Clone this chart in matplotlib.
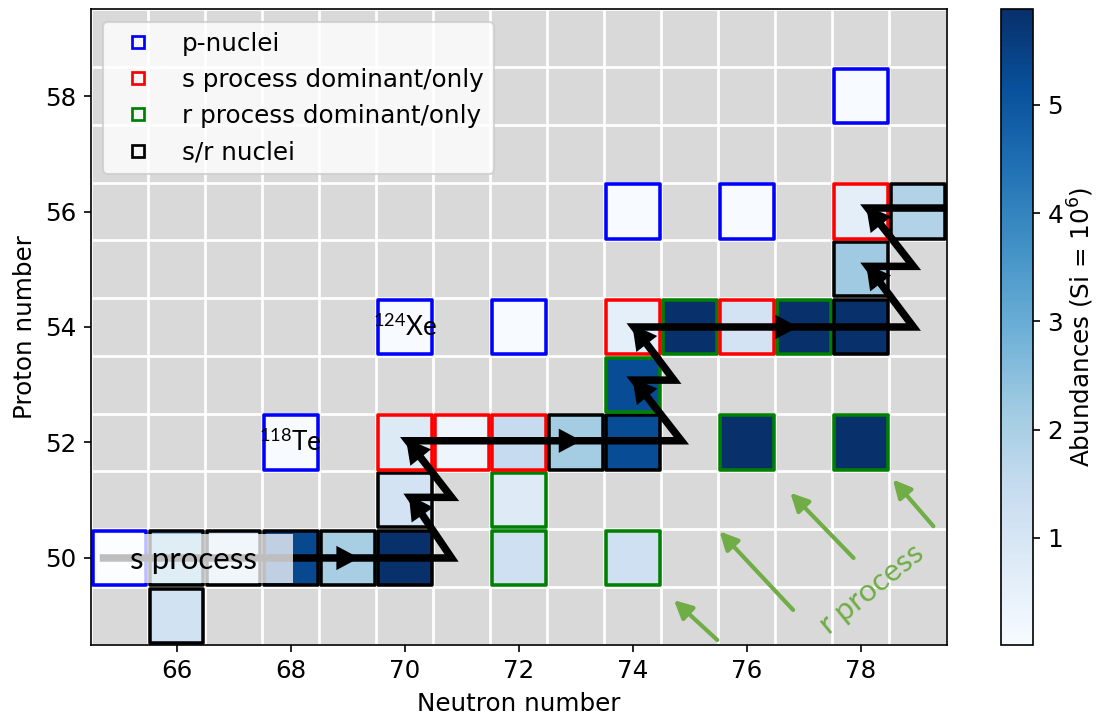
import numpy as np
import matplotlib
matplotlib.use("Agg")
import matplotlib.pyplot as plt
from matplotlib.collections import PatchCollection
from matplotlib.patches import Rectangle
from matplotlib.lines import Line2D
from matplotlib.colors import Normalize

plt.rcParams["font.size"] = 11.8
plt.rcParams["mathtext.fontset"] = "custom"
plt.rcParams["mathtext.rm"] = "Lato"
plt.rcParams["mathtext.it"] = "Lato:italic"
plt.rcParams["mathtext.bf"] = "Lato:bold"

# nuclides in the Sn-Ba region: neutron number, proton number, abundance, origin
neutron_number = [66, 65, 66, 67, 68, 69, 70, 72, 74, 70, 72,
                  68, 70, 71, 72, 73, 74, 76, 78, 74,
                  70, 72, 74, 75, 76, 77, 78, 78, 74, 76, 78, 79, 78]
proton_number = [49, 50, 50, 50, 50, 50, 50, 50, 50, 51, 51,
                 52, 52, 52, 52, 52, 52, 52, 52, 53,
                 54, 54, 54, 54, 54, 54, 54, 55, 56, 56, 56, 56, 58]
abundance = [1.15, 0.07, 2.6, 1.4, 5.35, 2.05, 5.88, 1.25, 1.25, 1.1, 0.75,
             0.03, 0.8, 0.3, 1.5, 2.1, 5.25, 5.88, 5.88, 5.25,
             0.03, 0.03, 0.55, 5.88, 1.1, 5.88, 5.88, 2.2, 0.03, 0.03, 0.6, 1.85, 0.02]
origin = ["sr", "p", "sr", "sr", "sr", "sr", "sr", "r", "r", "sr", "r",
          "p", "s", "s", "s", "sr", "sr", "r", "r", "r",
          "p", "p", "s", "r", "s", "r", "sr", "sr", "p", "p", "s", "sr", "p"]

origin_colors = {"p": "b", "s": "r", "r": "g", "sr": "k"}
origin_labels = {"p": "p-nuclei", "s": "s process dominant/only",
                 "r": "r process dominant/only", "sr": "s/r nuclei"}

# s-process path (neutron captures along a row, beta decays up-left)
s_path_n = [64.65, 70.82, 70.1, 70.82, 70.05, 74.85, 74.02, 74.72, 74.02,
            78.92, 78.12, 78.92, 78.12, 79.9]
s_path_z = [50.0, 50.0, 51.05, 51.05, 52.03, 52.03, 53.08, 53.08, 54.0,
            54.0, 55.05, 55.05, 56.06, 56.06]
s_capture_heads_n = [69.2, 73.1, 76.9]
s_capture_heads_z = [50.0, 52.03, 54.0]

# r-process feeding arrows (tail -> tip)
r_tail_n = [75.48, 76.81, 77.87, 79.27]
r_tail_z = [48.58, 49.10, 50.0, 50.55]
r_tip_n = [74.72, 75.52, 76.76, 78.56]
r_tip_z = [49.27, 50.46, 51.13, 51.36]

office_green = "#70ad47"
note_font = "Lato"

fig = plt.figure(figsize=(1096 / 150, 722 / 150), dpi=150)
ax = fig.add_axes([0.0832, 0.1072, 0.7804, 0.8798])
cax = fig.add_axes([0.9133, 0.1072, 0.0292, 0.8798])

ax.set_facecolor("#d9d9d9")
ax.set_xlim(64.5, 79.5)
ax.set_ylim(48.5, 59.5)
ax.set_xticks(np.arange(66, 79, 2))
ax.set_yticks(np.arange(50, 59, 2))
ax.set_xticks(np.arange(64.5, 80, 1), minor=True)
ax.set_yticks(np.arange(48.5, 60, 1), minor=True)
ax.tick_params(which="minor", length=0)
ax.grid(which="minor", color="white", lw=1.3)
ax.set_axisbelow(True)

# cells, edge drawn inside each unit square
lw_cell = 1.7
inset = (lw_cell * 150 / 72 / 2) / 57.0
cells = [Rectangle((n - 0.5 + inset, z - 0.5 + inset), 1 - 2 * inset, 1 - 2 * inset)
         for n, z in zip(neutron_number, proton_number)]
norm = Normalize(vmin=0.015, vmax=5.88)
coll = PatchCollection(cells, cmap="Blues", norm=norm, zorder=2,
                       edgecolors=[origin_colors[o] for o in origin], linewidths=lw_cell)
coll.set_array(np.array(abundance))
ax.add_collection(coll)

# s-process zigzag
ax.plot(s_path_n, s_path_z, color="k", lw=3.6, solid_joinstyle="miter",
        solid_capstyle="butt", zorder=3)


def arrow_head(tip, direction, color="k", length=0.42, width=0.46):
    d = np.asarray(direction, float)
    d /= np.hypot(*d)
    base = np.asarray(tip, float) - d * length
    ax.arrow(base[0], base[1], d[0] * length, d[1] * length, width=0,
             head_width=width, head_length=length, length_includes_head=True,
             fc=color, ec="none", zorder=3)


for i in range(2, len(s_path_n) - 1, 2):
    d = (s_path_n[i] - s_path_n[i - 1], s_path_z[i] - s_path_z[i - 1])
    dn = np.array(d) / np.hypot(*d)
    arrow_head((s_path_n[i] + 0.05 * dn[0], s_path_z[i] + 0.05 * dn[1]), d)
for n, z in zip(s_capture_heads_n, s_capture_heads_z):
    arrow_head((n, z), (1, 0), length=0.4, width=0.42)

# labels on the path
box = Rectangle((64.57, 49.57), 3.47, 0.85, fc="white", ec="none", alpha=0.75, zorder=4)
ax.add_patch(box)
ax.text(66.3, 49.97, "s process", family=note_font, fontsize=15,
        ha="center", va="center", zorder=5)
ax.text(78.19, 49.47, "r process", family=note_font, fontsize=15, color=office_green,
        rotation=39, ha="center", va="center", rotation_mode="anchor", zorder=5)
ax.text(68.0, 52.0, r"$^{\mathrm{118}}$Te", family=note_font, fontsize=12.5,
        ha="center", va="center", zorder=5)
ax.text(70.0, 54.0, r"$^{\mathrm{124}}$Xe", family=note_font, fontsize=12.5,
        ha="center", va="center", zorder=5)

for tn, tz, hn, hz in zip(r_tail_n, r_tail_z, r_tip_n, r_tip_z):
    ax.annotate("", xy=(hn, hz), xytext=(tn, tz),
                arrowprops=dict(arrowstyle="-|>", color=office_green, lw=2.0,
                                mutation_scale=18, shrinkA=0, shrinkB=0),
                zorder=3)

handles = [Line2D([], [], ls="none", marker="s", ms=5.5, mew=1.3, mfc="none",
                  mec=origin_colors[k], label=origin_labels[k])
           for k in ["p", "s", "r", "sr"]]
leg = ax.legend(handles=handles, loc="upper left")
leg.set_zorder(6)

ax.set_xlabel("Neutron number")
ax.set_ylabel("Proton number")

cbar = fig.colorbar(coll, cax=cax)
cbar.set_label("Abundances (Si = $10^6$)", math_fontfamily="dejavusans", labelpad=1)

fig.savefig("out.png", dpi=150)
